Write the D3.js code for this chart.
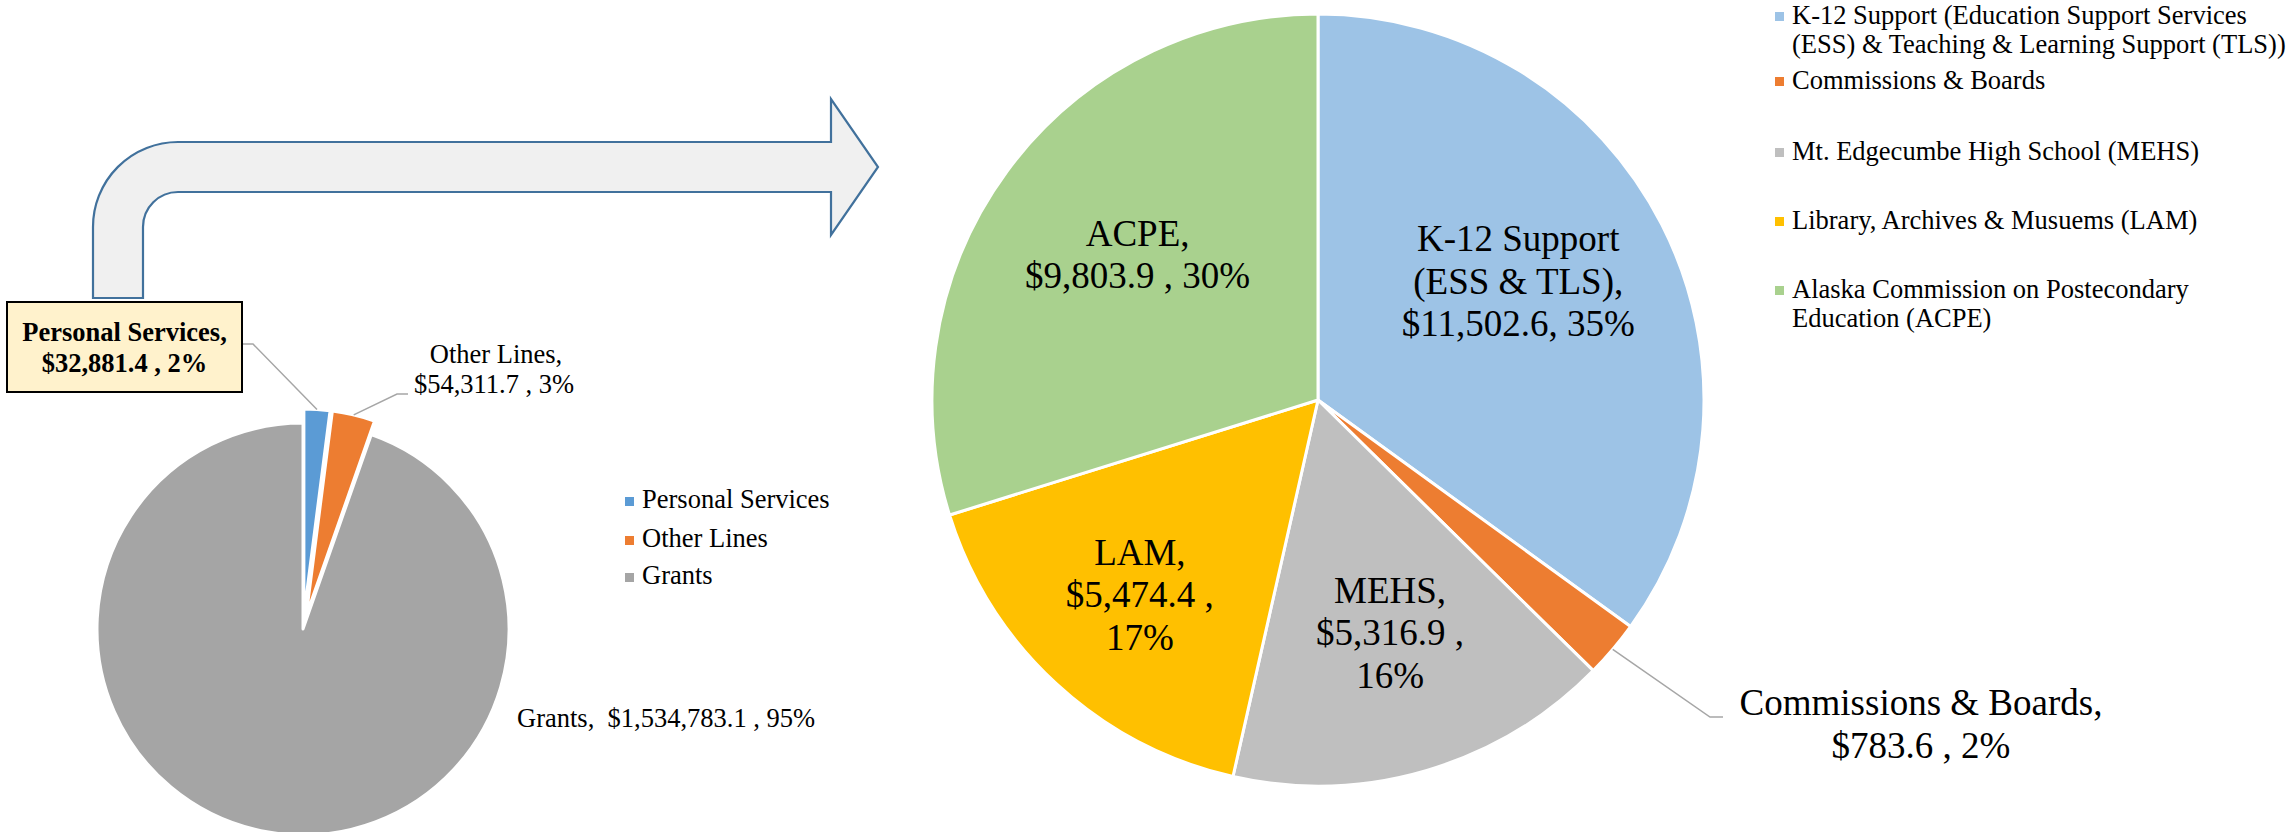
<!DOCTYPE html>
<html>
<head>
<meta charset="utf-8">
<script src="https://cdn.jsdelivr.net/npm/d3@7"></script>
<style>
  body { margin: 0; background: #fff; }
  svg text { font-family: "Liberation Serif", "Times New Roman", serif; fill: #000; }
</style>
</head>
<body>
<div id="chart"></div>
<script>
// left pie - department total by line item
const lineItems = ["Personal Services", "Other Lines", "Grants"];
const lineItemValues = [32881.4, 54311.7, 1534783.1];
const lineItemColors = ["#5B9BD5", "#ED7D31", "#A5A5A5"];

// right pie - where personal services go
const programShort = [["K-12 Support", "(ESS & TLS),"], ["Commissions & Boards,"], ["MEHS,"], ["LAM,"], ["ACPE,"]];
const programLegend = [
    ["K-12 Support (Education Support Services", "(ESS) & Teaching & Learning Support (TLS))"],
    ["Commissions & Boards"],
    ["Mt. Edgecumbe High School (MEHS)"],
    ["Library, Archives & Musuems (LAM)"],
    ["Alaska Commission on Postecondary", "Education (ACPE)"]
];
const programValues = [11502.6, 783.6, 5316.9, 5474.4, 9803.9];
const programColors = ["#9DC3E6", "#ED7D31", "#BFBFBF", "#FFC000", "#A9D18E"];

const W = 2294, H = 832;
const money = v => "$" + d3.format(",.1f")(v);
const pct = (v, tot) => Math.round(v / tot * 100) + "%";

const svg = d3.select("#chart").append("svg")
    .attr("width", W).attr("height", H);

// bent arrow from the personal services box over to the right pie
const ar = { x0: 93, x1: 143, yTop: 142, yBot: 192, bottom: 298, ro: 85, ri: 35, back: 831, headTop: 99, headBot: 235, tip: 878 };
const arrowPath = d3.path();
arrowPath.moveTo(ar.x0, ar.bottom);
arrowPath.lineTo(ar.x0, ar.yTop + ar.ro);
arrowPath.arcTo(ar.x0, ar.yTop, ar.x0 + ar.ro, ar.yTop, ar.ro);
arrowPath.lineTo(ar.back, ar.yTop);
arrowPath.lineTo(ar.back, ar.headTop);
arrowPath.lineTo(ar.tip, (ar.headTop + ar.headBot) / 2);
arrowPath.lineTo(ar.back, ar.headBot);
arrowPath.lineTo(ar.back, ar.yBot);
arrowPath.lineTo(ar.x1 + ar.ri, ar.yBot);
arrowPath.arcTo(ar.x1, ar.yBot, ar.x1, ar.yBot + ar.ri, ar.ri);
arrowPath.lineTo(ar.x1, ar.bottom);
arrowPath.closePath();
svg.append("path")
    .attr("d", arrowPath.toString())
    .attr("fill", "#F0F0F0")
    .attr("stroke", "#41719C")
    .attr("stroke-width", 2.2);

// ---------- left pie ----------
const L = { cx: 303, cy: 629, r: 206, explode: 14 };
const leftTotal = d3.sum(lineItemValues);
const leftArcs = d3.pie().sort(null).value(d => d)(lineItemValues);
const leftArc = d3.arc().innerRadius(0).outerRadius(L.r);
const leftEdge = d3.arc().innerRadius(L.r).outerRadius(L.r);

const gl = svg.append("g").attr("transform", `translate(${L.cx},${L.cy})`);
const shift = (d, i) => {
    if (i === 2) return [0, 0];
    const a = (d.startAngle + d.endAngle) / 2;
    return [L.explode * Math.sin(a), -L.explode * Math.cos(a)];
};
gl.selectAll("path.slice")
    .data(leftArcs)
    .enter().append("path")
    .attr("class", "slice")
    .attr("d", leftArc)
    .attr("transform", (d, i) => `translate(${shift(d, i)})`)
    .attr("fill", (d, i) => lineItemColors[i])
    .attr("stroke", "#fff")
    .attr("stroke-width", 3)
    .attr("stroke-linejoin", "round");

// outer points of the exploded slices, for the leader lines
const edgePt = i => {
    const c = leftEdge.centroid(leftArcs[i]);
    const s = shift(leftArcs[i], i);
    return [L.cx + c[0] + s[0], L.cy + c[1] + s[1]];
};

// Personal Services callout box
const ps = edgePt(0);
svg.append("polyline")
    .attr("points", [[242, 344], [253, 344], ps].join(" "))
    .attr("fill", "none").attr("stroke", "#A6A6A6").attr("stroke-width", 1.5);
svg.append("rect")
    .attr("x", 7).attr("y", 302).attr("width", 235).attr("height", 90)
    .attr("fill", "#FFF2CC").attr("stroke", "#000").attr("stroke-width", 2);
svg.append("text")
    .attr("x", 124.5).attr("y", 341)
    .attr("text-anchor", "middle").attr("font-size", 26.5).attr("font-weight", "bold")
    .text(lineItems[0] + ",");
svg.append("text")
    .attr("x", 124.5).attr("y", 372)
    .attr("text-anchor", "middle").attr("font-size", 26.5).attr("font-weight", "bold")
    .text(money(lineItemValues[0]) + " , " + pct(lineItemValues[0], leftTotal));

// Other Lines callout
const ol = edgePt(1);
svg.append("polyline")
    .attr("points", [ol, [397, 394], [408, 394]].join(" "))
    .attr("fill", "none").attr("stroke", "#A6A6A6").attr("stroke-width", 1.5);
svg.append("text")
    .attr("x", 496).attr("y", 363)
    .attr("text-anchor", "middle").attr("font-size", 26.5)
    .text(lineItems[1] + ",");
svg.append("text")
    .attr("x", 494).attr("y", 393)
    .attr("text-anchor", "middle").attr("font-size", 26.5)
    .text(money(lineItemValues[1]) + " , " + pct(lineItemValues[1], leftTotal));

// Grants label
svg.append("text")
    .attr("x", 517).attr("y", 727)
    .attr("font-size", 26.5)
    .style("white-space", "pre")
    .text(lineItems[2] + ",  " + money(lineItemValues[2]) + " , " + pct(lineItemValues[2], leftTotal));

// left legend
const legL = svg.append("g");
const legLy = [508, 547, 584];
lineItems.forEach((name, i) => {
    legL.append("rect")
        .attr("x", 625).attr("y", legLy[i] - 11).attr("width", 9).attr("height", 9)
        .attr("fill", lineItemColors[i]);
    legL.append("text")
        .attr("x", 642).attr("y", legLy[i])
        .attr("font-size", 26.5)
        .text(name);
});

// ---------- right pie ----------
const R = { cx: 1318, cy: 400, r: 386, labelR: 245 };
const rightTotal = d3.sum(programValues);
const rightArcs = d3.pie().sort(null).value(d => d)(programValues);
const rightArc = d3.arc().innerRadius(0).outerRadius(R.r);
const labelArc = d3.arc().innerRadius(R.labelR).outerRadius(R.labelR);
const rightEdge = d3.arc().innerRadius(R.r).outerRadius(R.r);

const gr = svg.append("g").attr("transform", `translate(${R.cx},${R.cy})`);
gr.selectAll("path.slice")
    .data(rightArcs)
    .enter().append("path")
    .attr("class", "slice")
    .attr("d", rightArc)
    .attr("fill", (d, i) => programColors[i])
    .attr("stroke", "#fff")
    .attr("stroke-width", 3)
    .attr("stroke-linejoin", "round");

const valueLines = i => {
    const v = money(programValues[i]), p = pct(programValues[i], rightTotal);
    if (i === 0) return [v + ", " + p];
    if (i === 2 || i === 3) return [v + " ,", p];
    return [v + " , " + p];
};

const fsIn = 37, lh = 42.5;
// small nudges away from the plain centroid, like the "best fit" placement
const nudge = [[-18, -7], [0, 0], [3, -2], [-12, 15], [17, 0]];
rightArcs.forEach((d, i) => {
    if (i === 1) return; // commissions goes outside
    const lines = programShort[i].concat(valueLines(i));
    const c = labelArc.centroid(d);
    const x = R.cx + c[0] + nudge[i][0];
    const y0 = R.cy + c[1] + nudge[i][1] - (lines.length - 1) * lh / 2 + 12;
    const t = svg.append("text")
        .attr("text-anchor", "middle").attr("font-size", fsIn);
    lines.forEach((s, k) => {
        t.append("tspan").attr("x", x).attr("y", y0 + k * lh).text(s);
    });
});

// Commissions & Boards callout
const cb = rightEdge.centroid(rightArcs[1]);
svg.append("polyline")
    .attr("points", [[R.cx + cb[0], R.cy + cb[1]], [1710, 717], [1723, 717]].join(" "))
    .attr("fill", "none").attr("stroke", "#A6A6A6").attr("stroke-width", 1.5);
const cbLines = programShort[1].concat(valueLines(1));
cbLines.forEach((s, k) => {
    svg.append("text")
        .attr("x", 1921).attr("y", 715 + k * lh)
        .attr("text-anchor", "middle").attr("font-size", fsIn)
        .text(s);
});

// right legend
const legR = svg.append("g");
const legRy = [24, 89, 160, 229, 298];
const legLh = 29;
programLegend.forEach((lines, i) => {
    legR.append("rect")
        .attr("x", 1775).attr("y", legRy[i] - 12).attr("width", 9).attr("height", 9)
        .attr("fill", programColors[i]);
    lines.forEach((s, k) => {
        legR.append("text")
            .attr("x", 1792).attr("y", legRy[i] + k * legLh)
            .attr("font-size", 26.5)
            .text(s);
    });
});
</script>
</body>
</html>
